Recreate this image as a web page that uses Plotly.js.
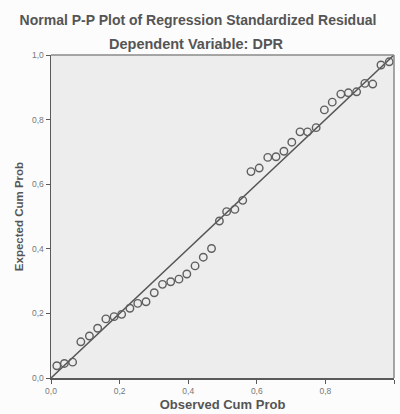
<!DOCTYPE html>
<html>
<head>
<meta charset="utf-8">
<script src="https://cdn.plot.ly/plotly-3.0.1.min.js"></script>
<style>
html,body{margin:0;padding:0;background:#fcfcfc;}
#chart{width:400px;height:414px;}
</style>
</head>
<body>
<div id="chart"></div>
<script>
const observedCumProb = [0.017,0.039,0.063,0.087,0.112,0.136,0.160,0.184,0.206,0.230,0.253,0.277,0.301,0.325,0.349,0.373,0.396,0.420,0.444,0.468,0.491,0.512,0.536,0.559,0.583,0.607,0.632,0.656,0.679,0.702,0.726,0.748,0.773,0.797,0.820,0.845,0.867,0.891,0.915,0.938,0.962,0.986];
const expectedCumProb = [0.038,0.045,0.049,0.112,0.130,0.154,0.183,0.190,0.197,0.216,0.231,0.236,0.264,0.290,0.298,0.306,0.322,0.347,0.374,0.401,0.486,0.515,0.522,0.550,0.639,0.650,0.683,0.685,0.702,0.730,0.762,0.762,0.775,0.830,0.854,0.879,0.883,0.886,0.912,0.910,0.969,0.979];
const refLineX = [0, 1];
const refLineY = [0, 1];
const tickVals = [0, 0.2, 0.4, 0.6, 0.8, 1.0];

const textColor = '#555';
const font = 'Liberation Sans, Arial, sans-serif';

const traces = [
  {x: refLineX, y: refLineY, mode: 'lines', line: {color: '#555', width: 1.5}, hoverinfo: 'skip'},
  {x: observedCumProb, y: expectedCumProb, mode: 'markers',
   marker: {symbol: 'circle-open', size: 7.5, color: '#5f5f5f', line: {width: 1.4, color: '#5f5f5f'}}}
];

const axisCommon = {
  range: [0, 1], tickvals: tickVals, tickformat: '.1f',
  showgrid: false, zeroline: false,
  showline: true, linecolor: '#5a5a5a', linewidth: 1.5,
  ticks: 'outside', ticklen: 4, tickcolor: '#5a5a5a', tickwidth: 1,
  tickfont: {family: font, size: 8.5, color: '#777'}
};

const layout = {
  width: 400, height: 414,
  margin: {l: 51, r: 6, t: 55, b: 36},
  paper_bgcolor: '#fcfcfc', plot_bgcolor: '#ededed',
  separators: ',.',
  showlegend: false,
  title: {text: 'Normal P-P Plot of Regression Standardized Residual',
          font: {family: font, size: 14, color: textColor, weight: 'bold'},
          xref: 'container', x: 0.495, xanchor: 'center',
          yref: 'container', y: 1 - 20/414, yanchor: 'middle'},
  annotations: [{text: 'Dependent Variable: DPR', xref: 'paper', yref: 'paper',
    x: 0.423, y: 1.034, xanchor: 'center', yanchor: 'middle', showarrow: false,
    font: {family: font, size: 14.5, color: textColor, weight: 'bold'}}],
  xaxis: Object.assign({}, axisCommon, {
    title: {text: 'Observed Cum Prob', font: {family: font, size: 13, color: textColor, weight: 'bold'}, standoff: 5}
  }),
  yaxis: Object.assign({}, axisCommon, {
    title: {text: 'Expected Cum Prob', font: {family: font, size: 11.5, color: textColor, weight: 'bold'}, standoff: 6}
  }),
  shapes: [
    {type: 'line', xref: 'paper', yref: 'paper', x0: 0, x1: 1, y0: 1, y1: 1, line: {color: '#8a8a8a', width: 1.5}},
    {type: 'line', xref: 'paper', yref: 'paper', x0: 1, x1: 1, y0: 0, y1: 1, line: {color: '#8a8a8a', width: 1.5}}
  ]
};

Plotly.newPlot('chart', traces, layout, {staticPlot: true, displayModeBar: false});
</script>
</body>
</html>
